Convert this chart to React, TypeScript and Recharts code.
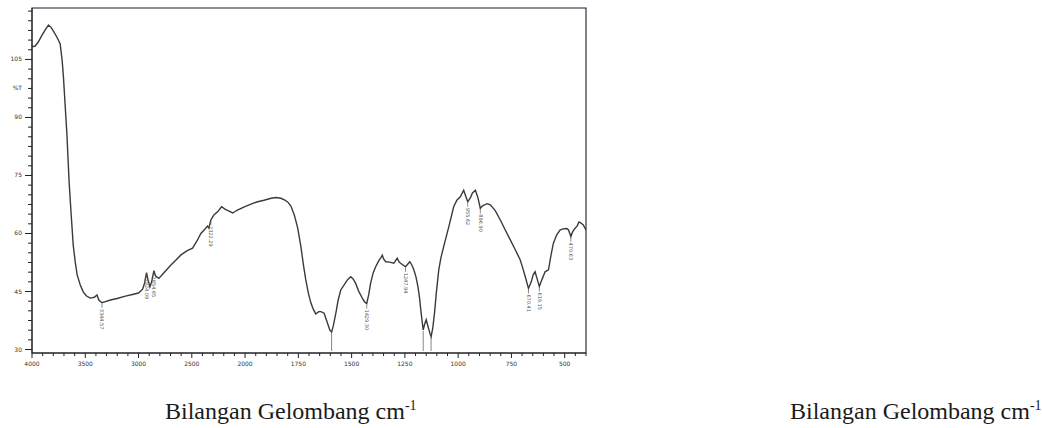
import { ComposedChart, Line, Scatter, XAxis, YAxis, ReferenceArea } from 'recharts';

// FTIR spectrum, wavenumber (cm-1) vs %T
const WAVENUMBER = [
  4000, 3972, 3941, 3906, 3877, 3846, 3821, 3799, 3767, 3736, 3717, 3705, 3689, 3673, 3651,
  3632, 3613, 3594, 3576, 3547, 3519, 3491, 3453, 3415, 3390, 3373, 3343, 3311, 3264, 3201,
  3123, 3047, 3000, 2962, 2943, 2925, 2911, 2893, 2877, 2856, 2840, 2809, 2764, 2698, 2651,
  2604, 2547, 2493, 2453, 2415, 2378, 2353, 2340, 2321, 2293, 2258, 2220, 2189, 2160, 2116,
  2076, 2007, 1972, 1941, 1911, 1878, 1855, 1832, 1813, 1799, 1785, 1769, 1753, 1738, 1726,
  1715, 1703, 1691, 1679, 1668, 1654, 1644, 1629, 1613, 1602, 1594, 1586, 1574, 1563, 1551,
  1535, 1520, 1504, 1492, 1481, 1467, 1449, 1439, 1429, 1420, 1411, 1399, 1387, 1373, 1364,
  1356, 1350, 1340, 1321, 1302, 1286, 1277, 1270, 1247, 1227, 1217, 1208, 1198, 1189, 1181,
  1177, 1170, 1164, 1158, 1150, 1141, 1132, 1127, 1119, 1111, 1102, 1091, 1081, 1068, 1044,
  1021, 1006, 990, 974, 966, 955, 943, 933, 919, 907, 896, 887, 877, 863, 849,
  826, 802, 779, 756, 732, 709, 697, 685, 670, 657, 648, 639, 629, 619, 606,
  592, 576, 564, 553, 538, 522, 508, 490, 482, 471, 463, 452, 442, 433, 423,
  413, 400,
];

const TRANSMITTANCE = [
  108.3, 108.4, 109.5, 111.3, 112.6, 113.9, 113.3, 112.3, 110.8, 109.1, 104.8, 100.5, 93.2, 86.0, 73.0,
  64.8, 57.0, 52.6, 49.3, 46.7, 44.9, 43.9, 43.3, 43.5, 44.1, 42.8, 42.1, 42.4, 42.8, 43.2,
  43.8, 44.3, 44.6, 45.6, 47.2, 49.9, 48.0, 46.2, 47.5, 50.4, 49.0, 48.4, 49.8, 51.8, 53.1,
  54.4, 55.5, 56.2, 58.0, 60.0, 61.1, 61.9, 61.4, 63.5, 64.8, 65.6, 66.9, 66.3, 65.9, 65.3,
  66.0, 66.9, 67.6, 68.2, 68.6, 69.1, 69.3, 69.1, 68.6, 68.1, 67.1, 64.8, 61.4, 56.6, 51.8,
  48.0, 44.6, 42.0, 40.3, 39.2, 39.8, 39.8, 39.4, 36.8, 35.0, 34.5, 36.1, 39.4, 42.8, 45.4,
  46.7, 48.0, 48.8, 48.2, 47.1, 45.1, 43.2, 42.3, 41.9, 44.1, 47.1, 49.8, 51.4, 52.9, 53.6,
  54.4, 53.4, 52.7, 52.6, 52.3, 53.6, 52.6, 52.3, 51.4, 52.7, 51.8, 50.6, 48.8, 46.3, 43.3,
  41.1, 37.7, 35.1, 36.4, 37.7, 35.9, 34.1, 33.3, 35.6, 39.4, 44.9, 50.6, 53.7, 56.6, 61.7,
  66.9, 68.6, 69.5, 71.2, 69.9, 68.2, 69.2, 70.5, 71.2, 69.2, 66.5, 67.1, 67.4, 67.7, 67.4,
  65.9, 63.5, 60.9, 58.4, 55.8, 53.2, 51.1, 48.8, 45.8, 47.5, 49.3, 50.1, 48.2, 46.3, 48.2,
  50.1, 50.6, 54.5, 57.5, 59.6, 60.9, 61.2, 61.3, 60.9, 59.2, 60.4, 61.3, 61.9, 63.0, 62.7,
  62.2, 60.9,
];

const PEAK_WAVENUMBER = [3343, 2925, 2856, 2321, 1594, 1429, 1247, 1164, 1127, 955, 896, 670, 619, 471];
const PEAK_LABEL = [
  '3344.57', '2924.09', '2854.65', '2322.29', '1595.02', '1429.30', '1247.94',
  '1164.92', '1126.43', '955.62', '896.90', '670.41', '619.15', '470.63',
];

const X_MAJOR = [4000, 3500, 3000, 2500, 2000, 1750, 1500, 1250, 1000, 750, 500];
const Y_MAJOR = [30, 45, 60, 75, 90, 105];
const Y_UNIT = '%T';
const Y_UNIT_AT = 97.5;
const Y_DOMAIN: [number, number] = [29.1, 118.3];
const X_END = 400;

const CAPTION = 'Bilangan Gelombang cm';
const CAPTION_SUP = '-1';

const PLOT_BOTTOM = 353;
const TICK_FONT = '"DejaVu Sans", sans-serif';

// instrument scale: 500 cm-1 per division above 2000, 250 below
function toAxis(w: number) {
  return w >= 2000 ? (4000 - w) / 500 : 4 + (2000 - w) / 250;
}
function fromAxis(u: number) {
  const w = u <= 4 ? 4000 - u * 500 : 2000 - (u - 4) * 250;
  return Math.round(w / 10) * 10;
}

const spectrum = WAVENUMBER.map((w, i) => ({ u: toAxis(w), t: TRANSMITTANCE[i] }));

function valueAt(w: number) {
  let best = 0;
  WAVENUMBER.forEach((v, i) => {
    if (Math.abs(v - w) < Math.abs(WAVENUMBER[best] - w)) best = i;
  });
  return TRANSMITTANCE[best];
}

const peaks = PEAK_WAVENUMBER.map((w, i) => ({ u: toAxis(w), t: valueAt(w), label: PEAK_LABEL[i] }));

const xTicks: number[] = [];
for (let w = 4000; w > 2000; w -= 100) xTicks.push(toAxis(w));
for (let w = 2000; w >= X_END; w -= 50) xTicks.push(toAxis(w));

const yTicks: number[] = [];
for (let v = 30; v < Y_DOMAIN[1]; v += 2.5) yTicks.push(v);

function XTick(props: any) {
  const { x, y, payload } = props;
  const w = fromAxis(payload.value);
  const major = X_MAJOR.includes(w);
  return (
    <g>
      <line x1={x} x2={x} y1={y} y2={y + (major ? 5 : 3)} stroke="#222" strokeWidth={1} />
      {major && (
        <text x={x} y={y + 13} textAnchor="middle" fontSize={6} fontFamily={TICK_FONT} fill="#333">
          {w}
        </text>
      )}
    </g>
  );
}

function YTick(props: any) {
  const { x, y, payload } = props;
  const v = payload.value;
  const major = Y_MAJOR.includes(v);
  let label: string | null = major ? String(v) : null;
  if (Math.abs(v - Y_UNIT_AT) < 0.01) label = Y_UNIT;
  return (
    <g>
      <line x1={x - (major ? 7 : 4)} x2={x} y1={y} y2={y} stroke="#222" strokeWidth={1} />
      {label && (
        <text x={x - 10} y={y + 2} textAnchor="end" fontSize={6} fontFamily={TICK_FONT} fill="#333">
          {label}
        </text>
      )}
    </g>
  );
}

function PeakMark(props: any) {
  const { cx, cy, payload } = props;
  if (cx == null || cy == null) return null;
  const room = PLOT_BOTTOM - cy;
  if (room < 26) {
    return <line x1={cx} x2={cx} y1={cy + 1} y2={PLOT_BOTTOM - 2} stroke="#555" strokeWidth={0.7} />;
  }
  return (
    <g>
      <line x1={cx} x2={cx} y1={cy + 1} y2={cy + 5} stroke="#555" strokeWidth={0.7} />
      <text
        transform={`translate(${cx - 1.8}, ${cy + 6}) rotate(90)`}
        fontSize={5}
        fontFamily={TICK_FONT}
        fill="#555"
      >
        {payload.label}
      </text>
    </g>
  );
}

export default function App() {
  return (
    <div style={{ position: 'absolute', left: 0, top: 0, width: 1042, height: 428, background: '#fff' }}>
      <div style={{ position: 'absolute', left: 0, top: 0 }}>
        <ComposedChart width={600} height={380} margin={{ top: 8, right: 14, bottom: 7, left: 0 }}>
          <XAxis
            type="number"
            dataKey="u"
            domain={[0, toAxis(X_END)]}
            ticks={xTicks}
            interval={0}
            tickSize={0}
            tickMargin={0}
            tickLine={false}
            tick={<XTick />}
            height={20}
            axisLine={{ stroke: '#222', strokeWidth: 1 }}
            allowDataOverflow
          />
          <YAxis
            type="number"
            domain={Y_DOMAIN}
            ticks={yTicks}
            interval={0}
            tickSize={0}
            tickMargin={0}
            tickLine={false}
            tick={<YTick />}
            width={32}
            axisLine={{ stroke: '#222', strokeWidth: 1 }}
            allowDataOverflow
          />
          <ReferenceArea
            x1={0}
            x2={toAxis(X_END)}
            y1={Y_DOMAIN[0]}
            y2={Y_DOMAIN[1]}
            fill="none"
            stroke="#1c1c30"
            strokeWidth={1.1}
            ifOverflow="visible"
          />
          <Line
            data={spectrum}
            dataKey="t"
            type="linear"
            stroke="#3a3a3a"
            strokeWidth={1.4}
            dot={false}
            isAnimationActive={false}
          />
          <Scatter data={peaks} dataKey="t" shape={(p: any) => <PeakMark {...p} />} isAnimationActive={false} />
        </ComposedChart>
      </div>
      <svg width={1042} height={428} style={{ position: 'absolute', left: 0, top: 0, pointerEvents: 'none' }}>
        {[165, 790].map((x) => (
          <text key={x} x={x} y={419} fontSize={24} fontFamily='"Liberation Serif", "Times New Roman", serif' fill="#1a1a1a">
            {CAPTION}
            <tspan fontSize={14} dy={-9}>{CAPTION_SUP}</tspan>
          </text>
        ))}
      </svg>
    </div>
  );
}
